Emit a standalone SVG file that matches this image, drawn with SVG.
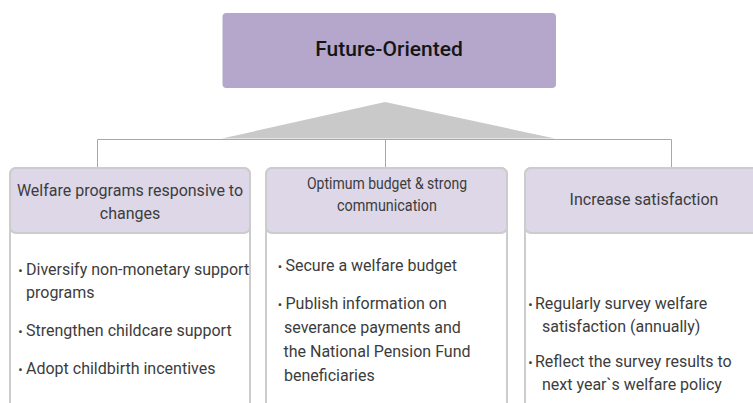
<svg xmlns="http://www.w3.org/2000/svg" width="753" height="403" viewBox="0 0 753 403">
<style>
.hdr{fill:#ddd7e8;stroke:#cccccc;stroke-width:2}
.body{fill:#ffffff;stroke:#cccccc;stroke-width:2}
.ht{font-family:Roboto,"Liberation Sans",sans-serif;font-size:16px;fill:#3c3c3c;text-anchor:middle}
.bt{font-family:Roboto,"Liberation Sans",sans-serif;font-size:16px;fill:#3c3c3c}
.bu{font-family:Roboto,"Liberation Sans",sans-serif;font-size:13px;fill:#3c3c3c;text-anchor:middle}
.conn{stroke:#a8a8a8;stroke-width:1;fill:none}
</style>
<rect width="753" height="403" fill="#ffffff"/>
<g id="connectors">
<polygon points="222,138.5 385,102 555,138.5" fill="#c9c9c9"/>
<path class="conn" d="M97.5,139.5H671.5M97.5,139.5V168M385.5,139.5V168M671.5,139.5V168"/>
</g>
<g id="root">
<rect x="222.5" y="13" width="333.5" height="75" rx="4" fill="#b5a6cc"/>
<text x="389" y="56" font-family="Roboto,'Liberation Sans',sans-serif" font-size="21" font-weight="500" fill="#151515" text-anchor="middle">Future-Oriented</text>
</g>
<g id="col1">
<rect class="body" x="10" y="168" width="240" height="260" rx="6"/>
<rect class="hdr" x="10" y="168" width="240" height="65" rx="6"/>
<text class="ht" x="130" y="196">Welfare programs responsive to</text>
<text class="ht" x="130" y="219">changes</text>
<text class="bu" x="20.5" y="275">•</text>
<text class="bt" x="26" y="275">Diversify non-monetary support</text>
<text class="bt" x="26" y="298">programs</text>
<text class="bu" x="20.5" y="336">•</text>
<text class="bt" x="26" y="336">Strengthen childcare support</text>
<text class="bu" x="20.5" y="374">•</text>
<text class="bt" x="26" y="374">Adopt childbirth incentives</text>
</g>
<g id="col2">
<rect class="body" x="266" y="168" width="241" height="260" rx="6"/>
<rect class="hdr" x="266" y="168" width="241" height="65" rx="6"/>
<text class="ht" x="387" y="189" textLength="160" lengthAdjust="spacingAndGlyphs">Optimum budget &amp; strong</text>
<text class="ht" x="387" y="211" textLength="100" lengthAdjust="spacingAndGlyphs">communication</text>
<text class="bu" x="280" y="271">•</text>
<text class="bt" x="285.5" y="271">Secure a welfare budget</text>
<text class="bu" x="280" y="309">•</text>
<text class="bt" x="285.5" y="309">Publish information on</text>
<text class="bt" x="284" y="333">severance payments and</text>
<text class="bt" x="283.5" y="357">the National Pension Fund</text>
<text class="bt" x="284" y="381">beneficiaries</text>
</g>
<g id="col3">
<rect class="body" x="525" y="168" width="260" height="260" rx="6"/>
<rect class="hdr" x="525" y="168" width="260" height="65" rx="6"/>
<text class="ht" x="644" y="205">Increase satisfaction</text>
<text class="bu" x="530.5" y="309">•</text>
<text class="bt" x="535" y="309">Regularly survey welfare</text>
<text class="bt" x="542" y="332">satisfaction (annually)</text>
<text class="bu" x="530.5" y="367">•</text>
<text class="bt" x="535" y="367">Reflect the survey results to</text>
<text class="bt" x="542" y="390">next year`s welfare policy</text>
</g>
</svg>
